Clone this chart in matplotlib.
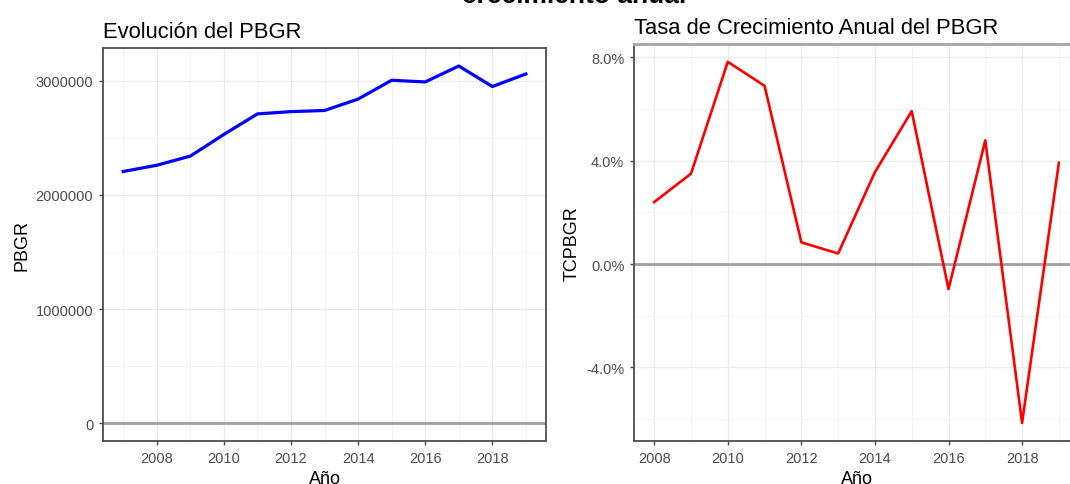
# -*- coding: utf-8 -*-
import matplotlib
matplotlib.use('Agg')
import matplotlib.pyplot as plt
from matplotlib.ticker import MultipleLocator, FuncFormatter

plt.rcParams['font.family'] = ['Liberation Sans', 'DejaVu Sans']

# PBGR por año y su tasa de crecimiento anual
anios = [2007, 2008, 2009, 2010, 2011, 2012, 2013, 2014, 2015, 2016, 2017, 2018, 2019]
pbgr = [2205000, 2260000, 2340000, 2530000, 2710000, 2730000, 2740000,
        2840000, 3005000, 2990000, 3130000, 2950000, 3060000]
anios_tc = [2008, 2009, 2010, 2011, 2012, 2013, 2014, 2015, 2016, 2017, 2018, 2019]
tcpbgr = [2.40, 3.50, 7.83, 6.90, 0.84, 0.41, 3.56, 5.92, -0.97, 4.79, -6.15, 3.92]

GRID_MAJ = '#ebebeb'
GRID_MIN = '#f4f4f4'
TXT_TICK = '#4d4d4d'
BORDER = '#4d4d4d'


def ggplot_range(vals, incl_zero=False):
    lo, hi = min(vals), max(vals)
    if incl_zero:
        lo, hi = min(lo, 0), max(hi, 0)
    pad = 0.05 * (hi - lo)
    return lo - pad, hi + pad


def estilo_bw(ax):
    ax.set_facecolor('white')
    ax.xaxis.set_major_locator(MultipleLocator(2))
    ax.xaxis.set_minor_locator(MultipleLocator(1))
    ax.grid(which='major', color=GRID_MAJ, lw=1.0, zorder=0)
    ax.grid(which='minor', color=GRID_MIN, lw=0.7, zorder=0)
    ax.set_axisbelow(True)
    for s in ax.spines.values():
        s.set_color(BORDER)
        s.set_linewidth(1.3)
    ax.tick_params(which='major', length=3, width=1, color=BORDER,
                   labelsize=10.5, labelcolor=TXT_TICK, pad=4)
    ax.tick_params(which='minor', length=0)


fig = plt.figure(figsize=(10.7, 4.85), dpi=100)

# titulo general (recortado arriba)
fig.text(0.537, 1 - 3 / 485, 'crecimiento anual', ha='center', va='baseline',
         fontsize=19, fontweight='bold', color='black')

# Evolucion del PBGR
ax1 = fig.add_axes([0.0963, 0.0887, 0.414, 0.810])
estilo_bw(ax1)
ax1.axhline(0, color='#a0a0a0', lw=2, zorder=1)
ax1.plot(anios, pbgr, color='#0000ff', lw=2.3, zorder=3)
ax1.set_xlim(ggplot_range(anios))
ax1.set_ylim(ggplot_range(pbgr, incl_zero=True))
ax1.yaxis.set_major_locator(MultipleLocator(1000000))
ax1.yaxis.set_minor_locator(MultipleLocator(500000))
ax1.yaxis.set_major_formatter(FuncFormatter(lambda v, p: '%d' % v))
ax1.set_title('Evolución del PBGR', loc='left', fontsize=15.8, pad=8)
ax1.set_xlabel('Año', fontsize=13, labelpad=4)
ax1.set_ylabel('PBGR', fontsize=13, labelpad=4)

# Tasa de crecimiento anual
ax2 = fig.add_axes([0.5925, 0.0887, 0.416, 0.819])
estilo_bw(ax2)
ax2.spines['top'].set_color('#a6a6a6')
ax2.spines['top'].set_linewidth(2)
ax2.axhline(0, color='#a0a0a0', lw=2, zorder=1)
ax2.plot(anios_tc, tcpbgr, color='#ff0000', lw=1.9, zorder=3)
ax2.set_xlim(ggplot_range(anios_tc))
ax2.set_ylim(ggplot_range(tcpbgr, incl_zero=True))
ax2.yaxis.set_major_locator(MultipleLocator(4))
ax2.yaxis.set_minor_locator(MultipleLocator(2))
ax2.yaxis.set_major_formatter(FuncFormatter(lambda v, p: '%.1f%%' % v))
ax2.set_title('Tasa de Crecimiento Anual del PBGR', loc='left', fontsize=15.8, pad=8)
ax2.set_xlabel('Año', fontsize=13, labelpad=4)
ax2.set_ylabel('TCPBGR', fontsize=13, labelpad=4)

fig.savefig('out.png', dpi=100)
